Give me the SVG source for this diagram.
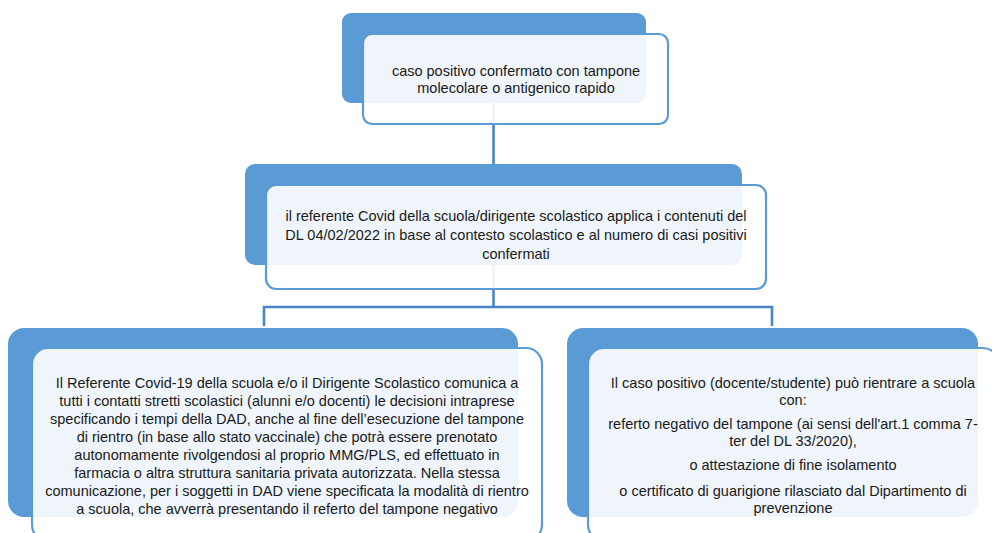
<svg xmlns="http://www.w3.org/2000/svg" width="992" height="533" viewBox="0 0 992 533">
<style>
.back{fill:#5b9bd5}
.front{fill:#ffffff;fill-opacity:0.9;stroke:#5b9bd5;stroke-width:2.2}
.conn{fill:none;stroke:#4a86c5;stroke-width:2.6}
text{font-family:"Liberation Sans",Arial,sans-serif;font-size:14.5px;fill:#1a1a1a;text-anchor:middle}
</style>
<rect width="992" height="533" fill="#ffffff"/>
<g id="connectors">
<line class="conn" x1="493.5" y1="100" x2="493.5" y2="166"/>
<line class="conn" x1="493.5" y1="263" x2="493.5" y2="307"/>
<path class="conn" d="M264,326 V307 H772 V326"/>
</g>
<g id="node-top">
<rect class="back" x="342" y="13" width="304" height="90" rx="9"/>
<rect class="front" x="363" y="34" width="305" height="90" rx="9"/>
<text x="516" y="76">caso positivo confermato con tampone</text>
<text x="516" y="93">molecolare o antigenico rapido</text>
</g>
<g id="node-middle">
<rect class="back" x="245" y="164" width="497" height="101" rx="10"/>
<rect class="front" x="266" y="185" width="500" height="104" rx="10"/>
<text x="516" y="221">il referente Covid della scuola/dirigente scolastico applica i contenuti del</text>
<text x="516" y="240">DL 04/02/2022  in base al contesto scolastico e al numero di casi positivi</text>
<text x="516" y="259">confermati</text>
</g>
<g id="node-left">
<rect class="back" x="8" y="328" width="510" height="189" rx="16"/>
<rect class="front" x="32" y="348" width="510" height="193" rx="16"/>
<text x="287" y="388">Il Referente Covid-19 della scuola e/o il Dirigente Scolastico comunica a</text>
<text x="287" y="406">tutti i contatti stretti scolastici (alunni e/o docenti) le decisioni intraprese</text>
<text x="287" y="424">specificando i tempi della DAD, anche al fine dell’esecuzione del tampone</text>
<text x="287" y="442">di rientro (in base allo stato vaccinale) che potrà essere prenotato</text>
<text x="287" y="460">autonomamente rivolgendosi al proprio MMG/PLS, ed effettuato in</text>
<text x="287" y="478">farmacia o altra struttura sanitaria privata autorizzata. Nella stessa</text>
<text x="287" y="496">comunicazione, per i soggetti in DAD viene specificata la modalità di rientro</text>
<text x="287" y="514">a scuola, che avverrà presentando il referto del tampone negativo</text>
</g>
<g id="node-right">
<rect class="back" x="567" y="328" width="411" height="189" rx="16"/>
<rect class="front" x="588" y="348" width="411" height="193" rx="16"/>
<text x="793" y="388">Il caso positivo (docente/studente) può rientrare a scuola</text>
<text x="793" y="405">con:</text>
<text x="793" y="429">referto negativo del tampone (ai sensi dell'art.1 comma 7-</text>
<text x="793" y="446">ter del DL 33/2020),</text>
<text x="793" y="470">o attestazione di fine isolamento</text>
<text x="793" y="496">o certificato di guarigione rilasciato dal Dipartimento di</text>
<text x="793" y="513">prevenzione</text>
</g>
</svg>
